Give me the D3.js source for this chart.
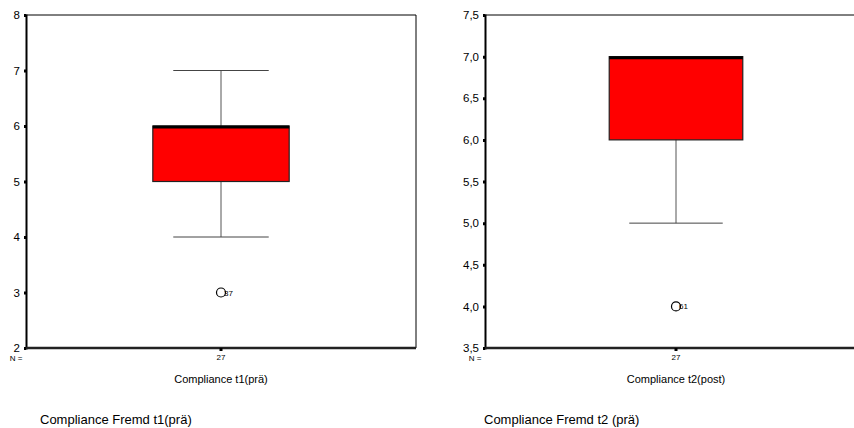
<!DOCTYPE html>
<html>
<head>
<meta charset="utf-8">
<script src="https://cdn.jsdelivr.net/npm/d3@7"></script>
<style>
  body { margin: 0; background: #fff; }
  svg { display: block; font-family: "Liberation Sans", Arial, sans-serif; }
</style>
</head>
<body>
<svg id="chart" width="854" height="428"></svg>
<script>
// box plot summaries, one per panel
const titles = ['Compliance t1(prä)', 'Compliance t2(post)'];
const captions = ['Compliance Fremd t1(prä)', 'Compliance Fremd t2 (prä)'];
const counts = [27, 27];
const lowWhisker = [4, 5];
const q1 = [5, 6];
const median = [6, 7];
const q3 = [6, 7];
const highWhisker = [7, 7];
const outlierValue = [3, 4];
const outlierCase = ['37', '61'];
const yDomains = [[2, 8], [3.5, 7.5]];
const yTicks = [[2, 3, 4, 5, 6, 7, 8], [3.5, 4, 4.5, 5, 5.5, 6, 6.5, 7, 7.5]];
const tickFormats = [d => String(d), d => d.toFixed(1).replace('.', ',')];

const svg = d3.select('#chart');
const plotTop = 15, plotBottom = 348;
const plotWs = [390, 382];
const lefts = [26, 485];
const captionX = [40, 484];

titles.forEach((title, i) => {
  const plotW = plotWs[i];
  const g = svg.append('g').attr('transform', `translate(${lefts[i]},0)`);

  const y = d3.scaleLinear().domain(yDomains[i]).range([plotBottom, plotTop]);
  const x = d3.scaleBand().domain([title]).range([0, plotW])
    .paddingInner(0).paddingOuter(0.93);
  const cx = x(title) + x.bandwidth() / 2;
  const bw = x.bandwidth();
  const capW = bw * 0.7;

  // frame: top and right thin
  g.append('line').attr('x1', 0).attr('x2', plotW).attr('y1', plotTop).attr('y2', plotTop)
    .attr('stroke', '#000').attr('stroke-width', 1);
  g.append('line').attr('x1', plotW).attr('x2', plotW).attr('y1', plotTop).attr('y2', plotBottom)
    .attr('stroke', '#000').attr('stroke-width', 1);

  // whiskers
  g.append('line').attr('x1', cx).attr('x2', cx)
    .attr('y1', y(lowWhisker[i])).attr('y2', y(highWhisker[i]))
    .attr('stroke', '#555').attr('stroke-width', 1);
  [lowWhisker[i], highWhisker[i]].forEach(v => {
    g.append('line').attr('x1', cx - capW / 2).attr('x2', cx + capW / 2)
      .attr('y1', y(v)).attr('y2', y(v))
      .attr('stroke', '#444').attr('stroke-width', 1);
  });

  // box
  g.append('rect')
    .attr('x', cx - bw / 2).attr('width', bw)
    .attr('y', y(q3[i])).attr('height', y(q1[i]) - y(q3[i]))
    .attr('fill', '#ff0000').attr('stroke', '#222').attr('stroke-width', 1.2);

  // median
  g.append('line').attr('x1', cx - bw / 2).attr('x2', cx + bw / 2)
    .attr('y1', y(median[i]) + 1).attr('y2', y(median[i]) + 1)
    .attr('stroke', '#000').attr('stroke-width', 3);

  // outlier
  g.append('circle').attr('cx', cx).attr('cy', y(outlierValue[i])).attr('r', 4.5)
    .attr('fill', 'none').attr('stroke', '#000').attr('stroke-width', 1.2);
  g.append('text').attr('x', cx + 3).attr('y', y(outlierValue[i]) + 3)
    .attr('font-size', 8).text(outlierCase[i]);

  // y axis
  const yAxis = g.append('g').call(d3.axisLeft(y).tickValues(yTicks[i])
    .tickFormat(tickFormats[i]).tickSize(2).tickPadding(4));
  yAxis.select('.domain').attr('stroke', '#000').attr('stroke-width', 2);
  yAxis.selectAll('.tick line').attr('stroke', '#000').attr('stroke-width', 3);
  yAxis.selectAll('.tick text').attr('font-size', 11.5).attr('fill', '#000');

  // x axis
  const xAxis = g.append('g').attr('transform', `translate(0,${plotBottom})`)
    .call(d3.axisBottom(x).tickSize(3).tickPadding(3).tickFormat(() => counts[i]));
  xAxis.select('.domain').attr('d', `M0,0H${plotW}`).attr('stroke', '#222').attr('stroke-width', 2.5);
  xAxis.selectAll('.tick line').attr('stroke', '#000').attr('stroke-width', 3);
  xAxis.selectAll('.tick text').attr('font-size', 8).attr('fill', '#000');

  g.append('text').attr('x', -10).attr('y', plotBottom + 13).attr('text-anchor', 'middle')
    .attr('font-size', 8).attr('fill', '#000').text('N =');

  g.append('text').attr('x', cx).attr('y', plotBottom + 35).attr('text-anchor', 'middle')
    .attr('font-size', 11).text(title);

  svg.append('text').attr('x', captionX[i]).attr('y', 424)
    .attr('font-size', 13).text(captions[i]);
});
</script>
</body>
</html>
